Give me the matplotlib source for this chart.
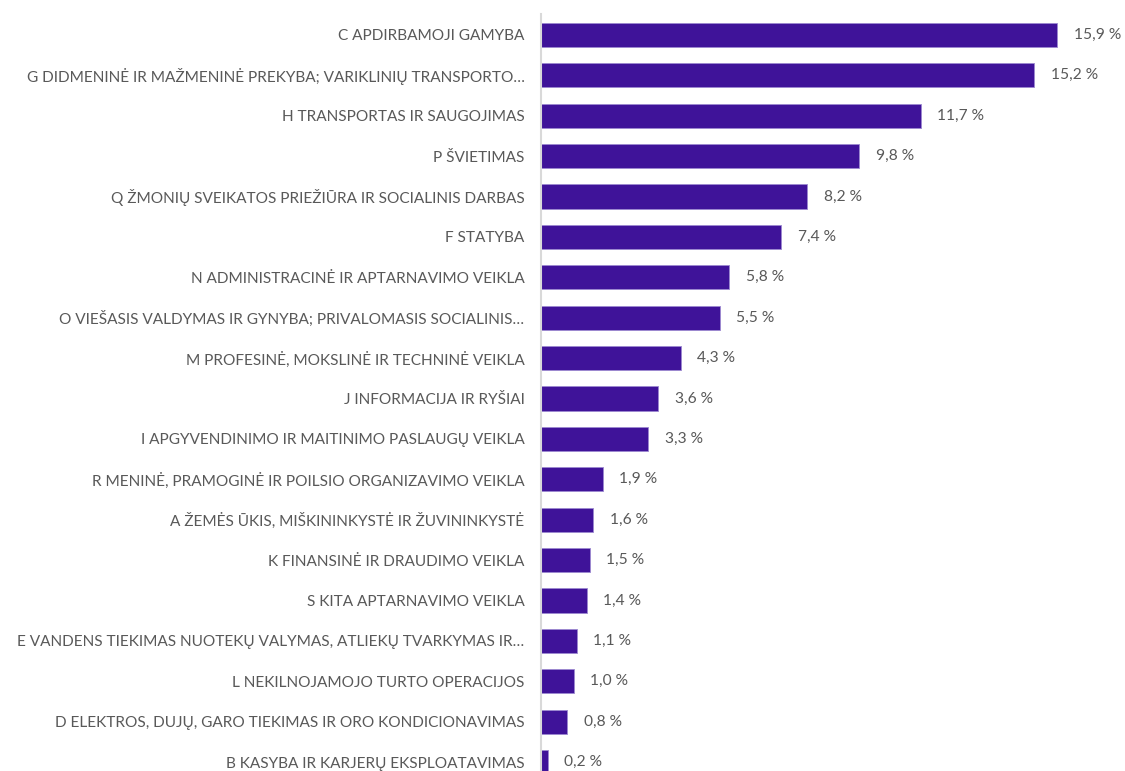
import matplotlib
matplotlib.use('Agg')
import matplotlib.pyplot as plt

# Sectors and shares (%)
labels = [
    'C APDIRBAMOJI GAMYBA',
    'G DIDMENINĖ IR MAŽMENINĖ PREKYBA; VARIKLINIŲ TRANSPORTO…',
    'H TRANSPORTAS IR SAUGOJIMAS',
    'P ŠVIETIMAS',
    'Q ŽMONIŲ SVEIKATOS PRIEŽIŪRA IR SOCIALINIS DARBAS',
    'F STATYBA',
    'N ADMINISTRACINĖ IR APTARNAVIMO VEIKLA',
    'O VIEŠASIS VALDYMAS IR GYNYBA; PRIVALOMASIS SOCIALINIS…',
    'M PROFESINĖ, MOKSLINĖ IR TECHNINĖ VEIKLA',
    'J INFORMACIJA IR RYŠIAI',
    'I APGYVENDINIMO IR MAITINIMO PASLAUGŲ VEIKLA',
    'R MENINĖ, PRAMOGINĖ IR POILSIO ORGANIZAVIMO VEIKLA',
    'A ŽEMĖS ŪKIS, MIŠKININKYSTĖ IR ŽUVININKYSTĖ',
    'K FINANSINĖ IR DRAUDIMO VEIKLA',
    'S KITA APTARNAVIMO VEIKLA',
    'E VANDENS TIEKIMAS NUOTEKŲ VALYMAS, ATLIEKŲ TVARKYMAS IR…',
    'L NEKILNOJAMOJO TURTO OPERACIJOS',
    'D ELEKTROS, DUJŲ, GARO TIEKIMAS IR ORO KONDICIONAVIMAS',
    'B KASYBA IR KARJERŲ EKSPLOATAVIMAS',
]
values = [15.9, 15.2, 11.7, 9.8, 8.2, 7.4, 5.8, 5.5, 4.3, 3.6, 3.3,
          1.9, 1.6, 1.5, 1.4, 1.1, 1.0, 0.8, 0.2]

bar_color = '#3F1399'
text_color = '#595959'
plt.rcParams['font.family'] = ['Lato', 'DejaVu Sans']

fig = plt.figure(figsize=(11.25, 7.71), dpi=100)
ax = fig.add_axes([0.481, 0.0, 0.519, 0.982])

ypos = list(range(len(labels)))
ax.barh(ypos, values, height=0.6, color=bar_color, edgecolor='#9C88D0', linewidth=0.6)

for y, v in zip(ypos, values):
    ax.annotate(f'{v:.1f} %'.replace('.', ','), (v, y), xytext=(12, 0),
                textcoords='offset points', va='center', ha='left',
                fontsize=11.2, color=text_color)

ax.set_xlim(0, 18.0)
ax.set_ylim(18.22, -0.52)
ax.set_yticks(ypos)
ax.set_yticklabels(labels, fontsize=11.1, color=text_color)
ax.tick_params(axis='y', length=0, pad=12)
ax.set_xticks([])

for s in ['top', 'right', 'bottom']:
    ax.spines[s].set_visible(False)
ax.spines['left'].set_color('#D9D9D9')
ax.spines['left'].set_linewidth(1.5)

fig.savefig('out.png', dpi=100)
